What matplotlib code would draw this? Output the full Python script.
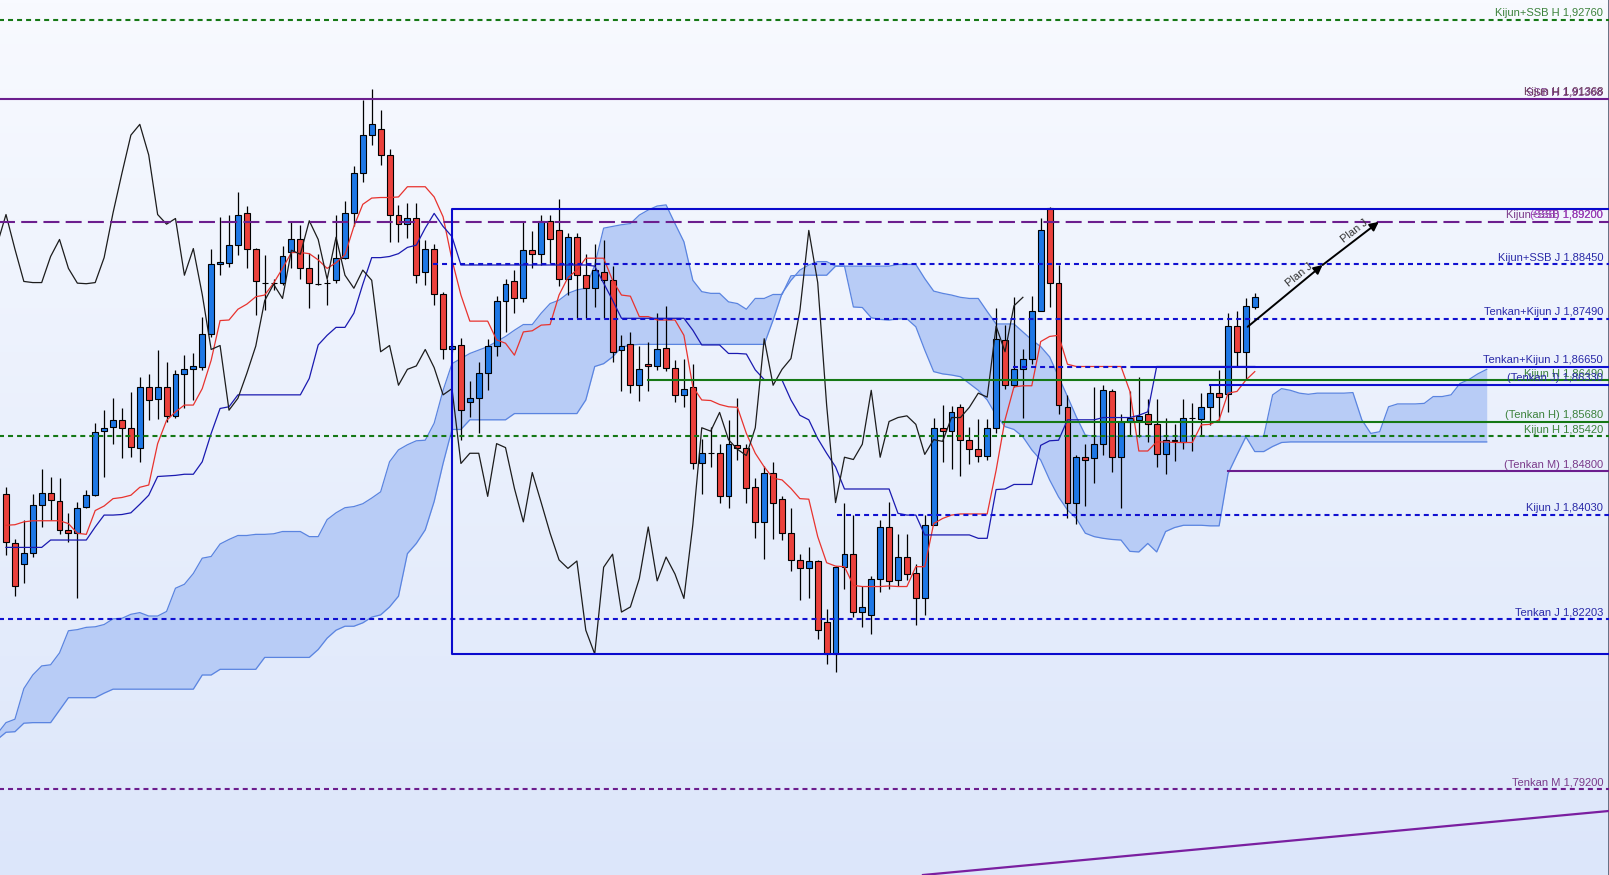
import numpy as np
import matplotlib
matplotlib.use("Agg")
import matplotlib.pyplot as plt

plt.rcParams['font.family'] = ['Liberation Sans', 'DejaVu Sans']
plt.rcParams['lines.scale_dashes'] = False

# candles, index 1..141
opens = [1.8441, 1.8353, 1.8316, 1.8337, 1.8420, 1.8442, 1.8428, 1.8376, 1.8371, 1.8417,
         1.8438, 1.8551, 1.8559, 1.8570, 1.8556, 1.8522, 1.8628, 1.8607, 1.8628, 1.8578,
         1.8651, 1.8660, 1.8665, 1.8723, 1.8846, 1.8848, 1.8880, 1.8936, 1.8872, 1.8813,
         1.8813, 1.8812, 1.8867, 1.8889, 1.8838, 1.8811, 1.8813, 1.8817, 1.8857, 1.8936,
         1.9006, 1.9073, 1.9083, 1.9038, 1.8933, 1.8916, 1.8926, 1.8831, 1.8873, 1.8792,
         1.8695, 1.8703, 1.8603, 1.8609, 1.8653, 1.8701, 1.8781, 1.8816, 1.8785, 1.8870,
         1.8863, 1.8922, 1.8905, 1.8819, 1.8893, 1.8826, 1.8803, 1.8832, 1.8817, 1.8694,
         1.8704, 1.8632, 1.8670, 1.8666, 1.8697, 1.8663, 1.8615, 1.8628, 1.8495, 1.8512,
         1.8512, 1.8436, 1.8526, 1.8522, 1.8452, 1.8391, 1.8478, 1.8431, 1.8371, 1.8324,
         1.8309, 1.8322, 1.8215, 1.8158, 1.8311, 1.8334, 1.8232, 1.8227, 1.8291, 1.8382,
         1.8288, 1.8329, 1.8301, 1.8256, 1.8386, 1.8557, 1.8551, 1.8593, 1.8536, 1.8519,
         1.8508, 1.8557, 1.8712, 1.8632, 1.8660, 1.8679, 1.8763, 1.8944, 1.8813, 1.8594,
         1.8425, 1.8505, 1.8503, 1.8528, 1.8621, 1.8505, 1.8568, 1.8571, 1.8581, 1.8563,
         1.8510, 1.8536, 1.8532, 1.8575, 1.8573, 1.8593, 1.8618, 1.8616, 1.8736, 1.8691,
         1.8770]
highs = [1.8453, 1.8360, 1.8395, 1.8441, 1.8484, 1.8471, 1.8469, 1.8406, 1.8426, 1.8448,
         1.8565, 1.8588, 1.8609, 1.8591, 1.8620, 1.8647, 1.8652, 1.8694, 1.8673, 1.8658,
         1.8685, 1.8688, 1.8753, 1.8872, 1.8929, 1.8933, 1.8972, 1.8948, 1.8874, 1.8862,
         1.8820, 1.8877, 1.8922, 1.8914, 1.8866, 1.8864, 1.8819, 1.8932, 1.8957, 1.9019,
         1.9135, 1.9154, 1.9118, 1.9048, 1.8950, 1.8954, 1.8953, 1.8888, 1.8881, 1.8797,
         1.8706, 1.8715, 1.8639, 1.8673, 1.8713, 1.8789, 1.8819, 1.8835, 1.8919, 1.8904,
         1.8933, 1.8932, 1.8960, 1.8900, 1.8901, 1.8863, 1.8881, 1.8888, 1.8842, 1.8720,
         1.8725, 1.8701, 1.8709, 1.8760, 1.8772, 1.8676, 1.8678, 1.8669, 1.8538, 1.8559,
         1.8529, 1.8571, 1.8609, 1.8529, 1.8469, 1.8489, 1.8497, 1.8436, 1.8415, 1.8335,
         1.8346, 1.8324, 1.8237, 1.8313, 1.8424, 1.8403, 1.8278, 1.8295, 1.8395, 1.8426,
         1.8369, 1.8369, 1.8317, 1.8403, 1.8575, 1.8597, 1.8595, 1.8599, 1.8558, 1.8573,
         1.8573, 1.8769, 1.8738, 1.8787, 1.8695, 1.8789, 1.8926, 1.8947, 1.8844, 1.8615,
         1.8509, 1.8529, 1.8629, 1.8632, 1.8626, 1.8581, 1.8621, 1.8646, 1.8607, 1.8607,
         1.8575, 1.8563, 1.8607, 1.8600, 1.8618, 1.8635, 1.8659, 1.8759, 1.8763, 1.8785,
         1.8795]
lows = [1.8332, 1.8260, 1.8284, 1.8329, 1.8382, 1.8394, 1.8369, 1.8356, 1.8256, 1.8416,
        1.8436, 1.8471, 1.8529, 1.8504, 1.8506, 1.8497, 1.8570, 1.8572, 1.8568, 1.8575,
        1.8591, 1.8606, 1.8659, 1.8717, 1.8826, 1.8841, 1.8862, 1.8838, 1.8756, 1.8765,
        1.8800, 1.8809, 1.8838, 1.8820, 1.8769, 1.8809, 1.8773, 1.8812, 1.8854, 1.8913,
        1.8991, 1.9056, 1.9020, 1.8885, 1.8885, 1.8891, 1.8812, 1.8809, 1.8773, 1.8678,
        1.8691, 1.8535, 1.8576, 1.8547, 1.8623, 1.8683, 1.8726, 1.8760, 1.8778, 1.8839,
        1.8844, 1.8847, 1.8807, 1.8791, 1.8750, 1.8750, 1.8770, 1.8750, 1.8673, 1.8622,
        1.8619, 1.8605, 1.8622, 1.8659, 1.8657, 1.8603, 1.8594, 1.8484, 1.8440, 1.8487,
        1.8425, 1.8415, 1.8500, 1.8424, 1.8362, 1.8325, 1.8360, 1.8359, 1.8304, 1.8254,
        1.8256, 1.8185, 1.8140, 1.8127, 1.8272, 1.8224, 1.8205, 1.8193, 1.8268, 1.8272,
        1.8278, 1.8288, 1.8209, 1.8227, 1.8385, 1.8497, 1.8484, 1.8472, 1.8493, 1.8497,
        1.8501, 1.8547, 1.8625, 1.8629, 1.8575, 1.8670, 1.8762, 1.8770, 1.8582, 1.8397,
        1.8387, 1.8419, 1.8459, 1.8509, 1.8479, 1.8416, 1.8544, 1.8541, 1.8532, 1.8488,
        1.8475, 1.8499, 1.8519, 1.8516, 1.8544, 1.8562, 1.8571, 1.8585, 1.8665, 1.8641,
        1.8766]
closes = [1.8356, 1.8278, 1.8337, 1.8420, 1.8442, 1.8429, 1.8376, 1.8371, 1.8416, 1.8439,
          1.8550, 1.8556, 1.8570, 1.8556, 1.8523, 1.8628, 1.8606, 1.8628, 1.8578, 1.8651,
          1.8660, 1.8666, 1.8723, 1.8845, 1.8849, 1.8880, 1.8933, 1.8872, 1.8815, 1.8813,
          1.8813, 1.8859, 1.8889, 1.8838, 1.8812, 1.8811, 1.8813, 1.8857, 1.8936, 1.9006,
          1.9073, 1.9092, 1.9038, 1.8933, 1.8916, 1.8926, 1.8826, 1.8873, 1.8792, 1.8695,
          1.8702, 1.8588, 1.8609, 1.8653, 1.8701, 1.8781, 1.8810, 1.8785, 1.8870, 1.8863,
          1.8922, 1.8889, 1.8819, 1.8893, 1.8826, 1.8803, 1.8835, 1.8817, 1.8691, 1.8702,
          1.8632, 1.8660, 1.8666, 1.8695, 1.8663, 1.8615, 1.8626, 1.8494, 1.8512, 1.8512,
          1.8436, 1.8529, 1.8522, 1.8450, 1.8391, 1.8478, 1.8425, 1.8371, 1.8324, 1.8309,
          1.8322, 1.8200, 1.8158, 1.8311, 1.8334, 1.8232, 1.8241, 1.8291, 1.8382, 1.8287,
          1.8329, 1.8299, 1.8256, 1.8386, 1.8557, 1.8551, 1.8584, 1.8536, 1.8519, 1.8508,
          1.8557, 1.8714, 1.8632, 1.8660, 1.8679, 1.8763, 1.8905, 1.8813, 1.8597, 1.8425,
          1.8505, 1.8501, 1.8528, 1.8623, 1.8505, 1.8568, 1.8575, 1.8578, 1.8563, 1.8510,
          1.8536, 1.8533, 1.8575, 1.8575, 1.8593, 1.8618, 1.8611, 1.8736, 1.8691, 1.8772,
          1.8787]

tenkan = [1.8385, 1.8386, 1.8391, 1.8393, 1.8393, 1.8393, 1.8393, 1.8388, 1.8371, 1.8369,
          1.8411, 1.8419, 1.8432, 1.8434, 1.8438, 1.8452, 1.8456, 1.8529, 1.8570, 1.8585,
          1.8597, 1.8597, 1.8626, 1.8676, 1.8746, 1.8747, 1.8766, 1.8775, 1.8788, 1.8791,
          1.8812, 1.8838, 1.8866, 1.8866, 1.8864, 1.8853, 1.8838, 1.8848, 1.8862, 1.8912,
          1.8951, 1.8962, 1.8963, 1.8963, 1.8964, 1.8982, 1.8982, 1.8982, 1.8964, 1.8929,
          1.8853, 1.8791, 1.8745, 1.8745, 1.8745, 1.8712, 1.8706, 1.8685, 1.8726, 1.8728,
          1.8738, 1.8739, 1.8791, 1.8822, 1.8835, 1.8856, 1.8856, 1.8856, 1.8817, 1.8791,
          1.8789, 1.8753, 1.8753, 1.8747, 1.8747, 1.8747, 1.8720, 1.8629, 1.8606, 1.8605,
          1.8598, 1.8594, 1.8593, 1.8547, 1.8512, 1.8488, 1.8468, 1.8465, 1.8450, 1.8432,
          1.8431, 1.8365, 1.8319, 1.8313, 1.8312, 1.8279, 1.8277, 1.8277, 1.8277, 1.8278,
          1.8277, 1.8277, 1.8312, 1.8312, 1.8388, 1.8397, 1.8403, 1.8405, 1.8405, 1.8405,
          1.8405, 1.8482, 1.8571, 1.8629, 1.8631, 1.8631, 1.8709, 1.8718, 1.8720, 1.8669,
          1.8665, 1.8665, 1.8665, 1.8665, 1.8665, 1.8665, 1.8621, 1.8516, 1.8516, 1.8532,
          1.8532, 1.8531, 1.8531, 1.8531, 1.8562, 1.8563, 1.8571, 1.8618, 1.8621, 1.8641,
          1.8656]
kijun = [1.8346, 1.8346, 1.8346, 1.8346, 1.8346, 1.8359, 1.8359, 1.8359, 1.8359, 1.8359,
         1.8382, 1.8403, 1.8403, 1.8404, 1.8407, 1.8422, 1.8438, 1.8471, 1.8472, 1.8473,
         1.8475, 1.8475, 1.8497, 1.8547, 1.8591, 1.8594, 1.8615, 1.8615, 1.8615, 1.8615,
         1.8615, 1.8615, 1.8615, 1.8615, 1.8644, 1.8703, 1.8720, 1.8734, 1.8734, 1.8759,
         1.8810, 1.8857, 1.8857, 1.8859, 1.8864, 1.8875, 1.8879, 1.8909, 1.8935, 1.8912,
         1.8894, 1.8844, 1.8844, 1.8844, 1.8844, 1.8844, 1.8844, 1.8844, 1.8844, 1.8844,
         1.8844, 1.8844, 1.8844, 1.8844, 1.8844, 1.8844, 1.8842, 1.8812, 1.8782, 1.8750,
         1.8750, 1.8750, 1.8750, 1.8750, 1.8750, 1.8750, 1.8750, 1.8729, 1.8703, 1.8703,
         1.8703, 1.8688, 1.8688, 1.8687, 1.8659, 1.8642, 1.8641, 1.8641, 1.8606, 1.8579,
         1.8571, 1.8538, 1.8512, 1.8488, 1.8449, 1.8449, 1.8449, 1.8449, 1.8449, 1.8449,
         1.8406, 1.8403, 1.8403, 1.8368, 1.8368, 1.8368, 1.8368, 1.8368, 1.8368, 1.8362,
         1.8362, 1.8448, 1.8449, 1.8457, 1.8457, 1.8457, 1.8526, 1.8534, 1.8535, 1.8571,
         1.8571, 1.8571, 1.8571, 1.8575, 1.8575, 1.8575, 1.8575, 1.8579, 1.8585, 1.8665,
         1.8665, 1.8665, 1.8665, 1.8665, 1.8665, 1.8665, 1.8665, 1.8665, 1.8665, 1.8665,
         1.8665]

# senkou spans, index 0..167
span_a = [1.8017, 1.8037, 1.8043, 1.8097, 1.8121, 1.8137, 1.8139, 1.8160, 1.8199, 1.8201,
          1.8205, 1.8206, 1.8210, 1.8220, 1.8221, 1.8228, 1.8231, 1.8225, 1.8225, 1.8233,
          1.8274, 1.8281, 1.8300, 1.8327, 1.8330, 1.8352, 1.8360, 1.8367, 1.8367, 1.8369,
          1.8369, 1.8370, 1.8374, 1.8374, 1.8374, 1.8365, 1.8365, 1.8395, 1.8407, 1.8416,
          1.8418, 1.8423, 1.8433, 1.8444, 1.8497, 1.8518, 1.8527, 1.8534, 1.8535, 1.8565,
          1.8623, 1.8670, 1.8679, 1.8688, 1.8694, 1.8700, 1.8709, 1.8718, 1.8729, 1.8739,
          1.8739, 1.8759, 1.8776, 1.8782, 1.8794, 1.8800, 1.8803, 1.8844, 1.8909, 1.8912,
          1.8915, 1.8917, 1.8932, 1.8941, 1.8948, 1.8950, 1.8917, 1.8885, 1.8817, 1.8797,
          1.8794, 1.8794, 1.8779, 1.8776, 1.8766, 1.8785, 1.8785, 1.8792, 1.8792, 1.8825,
          1.8826, 1.8826, 1.8826, 1.8826, 1.8842, 1.8842, 1.8842, 1.8842, 1.8842, 1.8842,
          1.8842, 1.8845, 1.8845, 1.8845, 1.8820, 1.8798, 1.8794, 1.8791, 1.8787, 1.8785,
          1.8785, 1.8762, 1.8740, 1.8740, 1.8740, 1.8726, 1.8712, 1.8700, 1.8682, 1.8647,
          1.8612, 1.8576, 1.8544, 1.8542, 1.8542, 1.8542, 1.8542, 1.8542, 1.8542, 1.8542,
          1.8542, 1.8542, 1.8542, 1.8542, 1.8542, 1.8542, 1.8542, 1.8542, 1.8542, 1.8542,
          1.8542, 1.8542, 1.8542, 1.8615, 1.8626, 1.8623, 1.8618, 1.8616, 1.8618, 1.8618,
          1.8618, 1.8618, 1.8619, 1.8571, 1.8547, 1.8550, 1.8594, 1.8599, 1.8599, 1.8599,
          1.8600, 1.8612, 1.8612, 1.8615, 1.8635, 1.8642, 1.8652, 1.8660]
span_b = [1.8007, 1.8020, 1.8021, 1.8036, 1.8037, 1.8037, 1.8037, 1.8059, 1.8081, 1.8081,
          1.8081, 1.8081, 1.8089, 1.8096, 1.8096, 1.8096, 1.8096, 1.8096, 1.8096, 1.8096,
          1.8096, 1.8096, 1.8096, 1.8121, 1.8121, 1.8131, 1.8131, 1.8131, 1.8131, 1.8131,
          1.8152, 1.8152, 1.8152, 1.8152, 1.8152, 1.8152, 1.8166, 1.8186, 1.8200, 1.8207,
          1.8207, 1.8213, 1.8223, 1.8227, 1.8241, 1.8260, 1.8335, 1.8353, 1.8377, 1.8427,
          1.8494, 1.8554, 1.8554, 1.8571, 1.8571, 1.8571, 1.8571, 1.8571, 1.8582, 1.8582,
          1.8582, 1.8582, 1.8582, 1.8582, 1.8582, 1.8582, 1.8606, 1.8665, 1.8670, 1.8682,
          1.8699, 1.8703, 1.8704, 1.8704, 1.8704, 1.8704, 1.8704, 1.8704, 1.8704, 1.8704,
          1.8704, 1.8704, 1.8704, 1.8704, 1.8704, 1.8704, 1.8704, 1.8747, 1.8794, 1.8817,
          1.8835, 1.8844, 1.8850, 1.8850, 1.8842, 1.8842, 1.8770, 1.8769, 1.8751, 1.8748,
          1.8747, 1.8749, 1.8749, 1.8735, 1.8694, 1.8656, 1.8652, 1.8650, 1.8647, 1.8635,
          1.8623, 1.8606, 1.8579, 1.8559, 1.8554, 1.8541, 1.8518, 1.8500, 1.8465, 1.8435,
          1.8412, 1.8397, 1.8371, 1.8365, 1.8362, 1.8360, 1.8359, 1.8339, 1.8338, 1.8353,
          1.8338, 1.8374, 1.8381, 1.8385, 1.8385, 1.8385, 1.8384, 1.8384, 1.8476, 1.8509,
          1.8541, 1.8515, 1.8515, 1.8524, 1.8531, 1.8532, 1.8532, 1.8532, 1.8532, 1.8532,
          1.8532, 1.8532, 1.8532, 1.8532, 1.8532, 1.8532, 1.8532, 1.8532, 1.8532, 1.8532,
          1.8532, 1.8532, 1.8532, 1.8532, 1.8532, 1.8532, 1.8532, 1.8532]

# price levels with their labels (line drawn where the picture shows it)
level_values = [1.92760, 1.91368, 1.89200, 1.88450, 1.87490, 1.86650, 1.86410,
                1.86330, 1.85680, 1.85420, 1.84800, 1.84030, 1.82203, 1.79200]
level_labels = ["Kijun+SSB H 1,92760", "SSB H 1,91368", "Kijun+SSB 1,89200",
                "Kijun+SSB J 1,88450", "Tenkan+Kijun J 1,87490", "Tenkan+Kijun J 1,86650",
                "Kijun H 1,86490", "(Tenkan J) 1,86330", "(Tenkan H) 1,85680",
                "Kijun H 1,85420", "(Tenkan M) 1,84800", "Kijun J 1,84030",
                "Tenkan J 1,82203", "Tenkan M 1,79200"]
extra_labels = [(1.91368, "Kijun H 1,91368"), (1.89200, "(SSB) 1,89200")]
box_top, box_bottom = 1.89427, 1.81575

GREEN, PURPLE, BLUE = "#157815", "#6c1e8e", "#1010d0"
level_start = [0, 0, 0, 48.9, 62.0, 127.3, 73.0, 136.0, 112.8, 0, 138.0, 94.2, 0, 0]
level_kind = ["dot", "solid", "long", "dot", "dot", "solid", "solid", "solid", "solid",
              "dot", "solid", "dot", "dot", "dot"]
level_color = [GREEN, PURPLE, PURPLE, BLUE, BLUE, BLUE, GREEN, BLUE, GREEN, GREEN,
               PURPLE, BLUE, BLUE, PURPLE]
text_color = {GREEN: "#3c823c", PURPLE: "#7a3a8a", BLUE: "#2a2aa8"}

xmin, xmax = 0.327, 180.71
ymin, ymax = 1.77683, 1.93113

fig = plt.figure(figsize=(16.09, 8.75), dpi=100)
ax = fig.add_axes([0, 0, 1, 1])
ax.set_xlim(xmin, xmax)
ax.set_ylim(ymin, ymax)
ax.set_xticks([])
ax.set_yticks([])
for s in ["top", "left", "bottom"]:
    ax.spines[s].set_visible(False)
ax.spines["right"].set_color("#5a6478")
ax.spines["right"].set_linewidth(2)

# background gradient
grad = np.linspace(0, 1, 256).reshape(-1, 1)
top_c = np.array([248, 250, 255]) / 255
bot_c = np.array([220, 230, 250]) / 255
img = top_c + (bot_c - top_c) * grad[:, :, None]
ax.imshow(img, extent=[xmin, xmax, ymin, ymax], aspect="auto", origin="upper", zorder=0)

# cloud
cx = np.arange(0, len(span_a))
ax.fill_between(cx, span_a, span_b, color="#b8ccf6", lw=0, zorder=1)
ax.plot(cx, span_a, color="#5a84e0", lw=0.9, zorder=2)
ax.plot(cx, span_b, color="#5a84e0", lw=0.9, zorder=2)

# candles
n = np.arange(1, len(closes) + 1)
o = np.array(opens)
c = np.array(closes)
ax.vlines(n, lows, highs, color="black", lw=0.9, zorder=3)
body_col = np.where(c > o, "#1e78e6", np.where(c < o, "#eb413c", "black"))
ax.bar(n, np.abs(c - o), bottom=np.minimum(o, c), width=0.66, color=body_col,
       edgecolor="black", linewidth=0.8, zorder=4)

# lines
ax.plot(n, tenkan, color="#e8332e", lw=0.9, zorder=5)
ax.plot(n, kijun, color="#1a1ab0", lw=0.9, zorder=5)
ax.plot(np.arange(0, len(closes) - 25), closes[25:], color="#1c1c1c", lw=0.9, zorder=5)

# levels
for v, st, kind, col in zip(level_values, level_start, level_kind, level_color):
    if kind == "dot":
        ax.plot([st, xmax], [v, v], color=col, lw=1.5, dashes=(3.6, 2.9), zorder=6)
    elif kind == "long":
        ax.plot([st, xmax], [v, v], color=col, lw=1.5, dashes=(11.5, 4.5), zorder=6)
    else:
        ax.plot([st, xmax], [v, v], color=col, lw=1.5, zorder=6)
ax.plot([113.9, 127.3], [1.86650, 1.86650], color=BLUE, lw=1.5, dashes=(3.6, 2.9), zorder=6)

# box
ax.plot([xmax, 51, 51, xmax], [box_top, box_top, box_bottom, box_bottom],
        color="#0a0acd", lw=1.5, zorder=6)

# trend line
ax.plot([103.8, 180.7], [1.77683, 1.78812], color="#7a1fa0", lw=1.6, zorder=6)

# labels
lx = 180.04
for v, lab, col in zip(level_values, level_labels, level_color):
    ax.annotate(lab, (lx, v), xytext=(0, 2.6), textcoords="offset points", ha="right",
                va="baseline", fontsize=8, color=text_color[col], zorder=7)
ax.annotate(extra_labels[0][1], (lx, extra_labels[0][0]), xytext=(0, 2.6),
            textcoords="offset points", ha="right", va="baseline", fontsize=8,
            color="#6a3a5a", zorder=7)
ax.annotate(extra_labels[1][1], (lx, extra_labels[1][0]), xytext=(0, 2.6),
            textcoords="offset points", ha="right", va="baseline", fontsize=8,
            color="#a03ac0", zorder=7)

# plan arrows
ax.annotate("", xy=(148.6, 1.8844), xytext=(140.2, 1.8735),
            arrowprops=dict(arrowstyle="-|>", color="black", lw=1.4, mutation_scale=13,
                            shrinkA=0, shrinkB=0), zorder=8)
ax.annotate("", xy=(154.9, 1.8920), xytext=(148.6, 1.8844),
            arrowprops=dict(arrowstyle="-|>", color="black", lw=1.4, mutation_scale=13,
                            shrinkA=0, shrinkB=0), zorder=8)
ax.text(146.0, 1.8826, "Plan J", rotation=39, fontsize=8, color="#333333",
        ha="center", va="center", zorder=8)
ax.text(152.2, 1.8903, "Plan J", rotation=38, fontsize=8, color="#333333",
        ha="center", va="center", zorder=8)

fig.savefig("out.png", dpi=100)
